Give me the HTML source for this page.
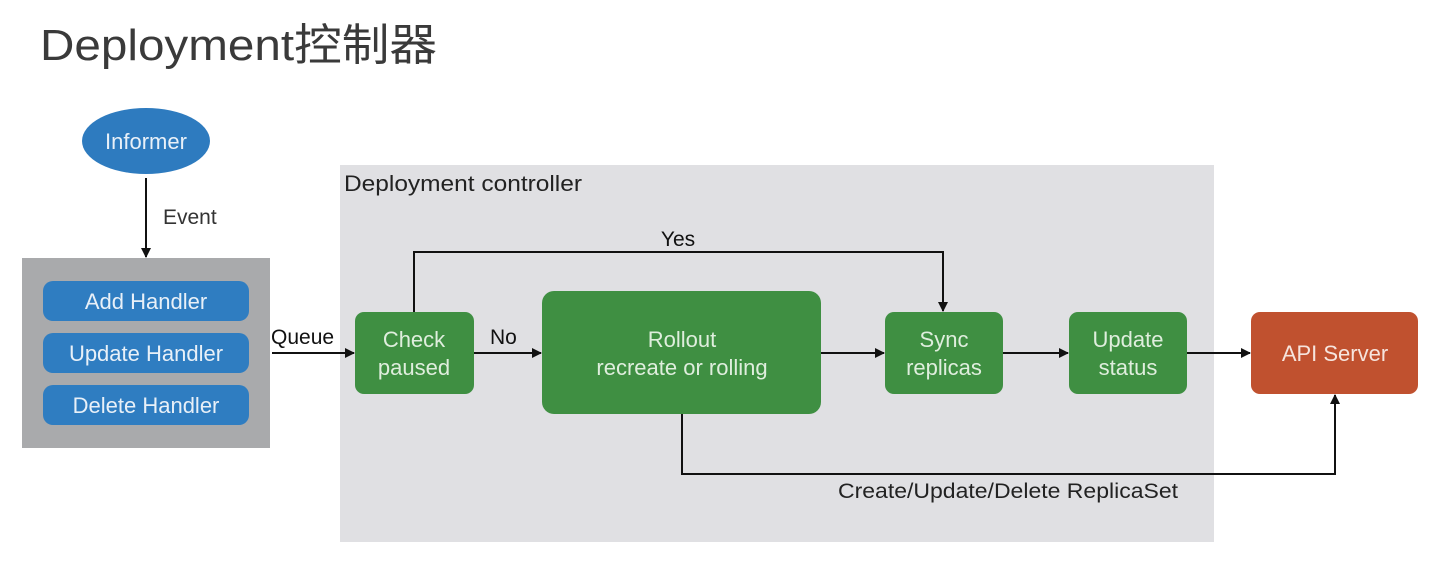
<!DOCTYPE html>
<html><head><meta charset="utf-8"><style>
html,body{margin:0;padding:0;background:#fff;}
svg{display:block;font-family:"Liberation Sans","Noto Sans CJK SC",sans-serif;}
</style></head><body>
<svg width="1437" height="562" viewBox="0 0 1437 562">
<defs><marker id="a" markerWidth="10" markerHeight="10" refX="9" refY="5" orient="auto" markerUnits="userSpaceOnUse"><path d="M0,0 L10,5 L0,10 z" fill="#111"/></marker></defs>
<text x="40" y="60" font-size="44" fill="#3a3a3a" textLength="397" lengthAdjust="spacingAndGlyphs">Deployment控制器</text>
<ellipse cx="146" cy="141" rx="64" ry="33" fill="#2e7bbf"/>
<text x="146" y="149" font-size="22" fill="#e8f0f8" text-anchor="middle">Informer</text>
<line x1="146" y1="178" x2="146" y2="257" stroke="#111" stroke-width="2" marker-end="url(#a)"/>
<text x="163" y="224" font-size="21" fill="#333">Event</text>
<rect x="22" y="258" width="248" height="190" fill="#a9aaac"/>
<rect x="43" y="281" width="206" height="40" rx="10" fill="#2f7dc1"/>
<rect x="43" y="333" width="206" height="40" rx="10" fill="#2f7dc1"/>
<rect x="43" y="385" width="206" height="40" rx="10" fill="#2f7dc1"/>
<text x="146" y="309" font-size="22" fill="#e8f0f8" text-anchor="middle">Add Handler</text>
<text x="146" y="361" font-size="22" fill="#e8f0f8" text-anchor="middle">Update Handler</text>
<text x="146" y="413" font-size="22" fill="#e8f0f8" text-anchor="middle">Delete Handler</text>
<rect x="340" y="165" width="874" height="377" fill="#e0e0e3"/>
<text x="344" y="191" font-size="22" fill="#222" textLength="238" lengthAdjust="spacingAndGlyphs">Deployment controller</text>
<text x="271" y="344" font-size="21" fill="#111">Queue</text>
<line x1="272" y1="353" x2="354" y2="353" stroke="#111" stroke-width="2" marker-end="url(#a)"/>
<rect x="355" y="312" width="119" height="82" rx="9" fill="#3f8f42"/>
<text x="414" y="347" font-size="22" fill="#dfeedd" text-anchor="middle">Check</text>
<text x="414" y="375" font-size="22" fill="#dfeedd" text-anchor="middle">paused</text>
<text x="490" y="344" font-size="21" fill="#111">No</text>
<line x1="474" y1="353" x2="541" y2="353" stroke="#111" stroke-width="2" marker-end="url(#a)"/>
<rect x="542" y="291" width="279" height="123" rx="12" fill="#3f8f42"/>
<text x="682" y="347" font-size="22" fill="#dfeedd" text-anchor="middle">Rollout</text>
<text x="682" y="375" font-size="22" fill="#dfeedd" text-anchor="middle">recreate or rolling</text>
<line x1="821" y1="353" x2="884" y2="353" stroke="#111" stroke-width="2" marker-end="url(#a)"/>
<rect x="885" y="312" width="118" height="82" rx="9" fill="#3f8f42"/>
<text x="944" y="347" font-size="22" fill="#dfeedd" text-anchor="middle">Sync</text>
<text x="944" y="375" font-size="22" fill="#dfeedd" text-anchor="middle">replicas</text>
<line x1="1003" y1="353" x2="1068" y2="353" stroke="#111" stroke-width="2" marker-end="url(#a)"/>
<rect x="1069" y="312" width="118" height="82" rx="9" fill="#3f8f42"/>
<text x="1128" y="347" font-size="22" fill="#dfeedd" text-anchor="middle">Update</text>
<text x="1128" y="375" font-size="22" fill="#dfeedd" text-anchor="middle">status</text>
<line x1="1187" y1="353" x2="1250" y2="353" stroke="#111" stroke-width="2" marker-end="url(#a)"/>
<rect x="1251" y="312" width="167" height="82" rx="9" fill="#c0512f"/>
<text x="1335" y="361" font-size="22" fill="#f6e4dd" text-anchor="middle">API Server</text>
<polyline points="414,312 414,252 943,252 943,311" fill="none" stroke="#111" stroke-width="2" marker-end="url(#a)"/>
<text x="678" y="246" font-size="21" fill="#111" text-anchor="middle">Yes</text>
<polyline points="682,414 682,474 1335,474 1335,395" fill="none" stroke="#111" stroke-width="2" marker-end="url(#a)"/>
<text x="1008" y="498" font-size="21" fill="#222" text-anchor="middle" textLength="340" lengthAdjust="spacingAndGlyphs">Create/Update/Delete ReplicaSet</text>
</svg>
</body></html>
